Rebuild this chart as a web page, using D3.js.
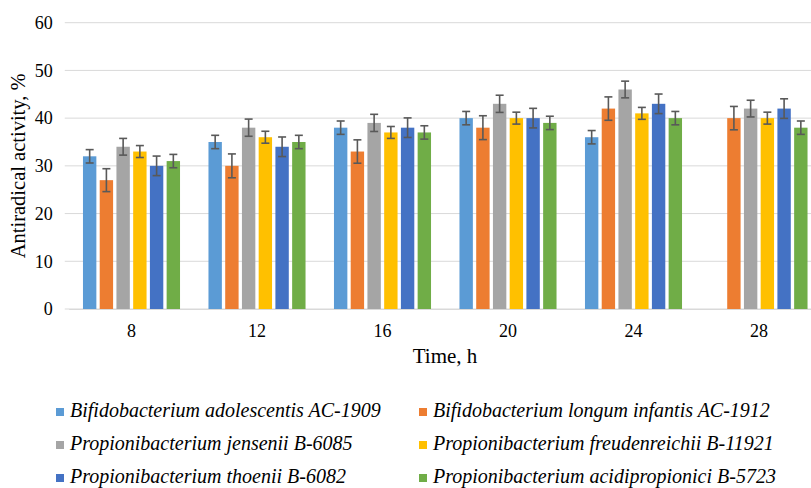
<!DOCTYPE html>
<html lang="en">
<head>
<meta charset="UTF-8">
<title>Antiradical activity</title>
<style>
  body { margin: 0; background: #fff; }
  svg { display: block; font-family: "Liberation Serif", "Times New Roman", serif; }
</style>
</head>
<body>
<div id="chart"></div>
<script src="https://d3js.org/d3.v7.min.js"></script>
<script>
// data
const hours = ["8", "12", "16", "20", "24", "28"];
const seriesNames = [
  "Bifidobacterium adolescentis AC-1909",
  "Bifidobacterium longum infantis AC-1912",
  "Propionibacterium jensenii B-6085",
  "Propionibacterium freudenreichii B-11921",
  "Propionibacterium thoenii B-6082",
  "Propionibacterium acidipropionici B-5723"
];
const adolescentis = [32, 35, 38, 40, 36, null];
const longumInfantis = [27, 30, 33, 38, 42, 40];
const jensenii = [34, 38, 39, 43, 46, 42];
const freudenreichii = [33, 36, 37, 40, 41, 40];
const thoenii = [30, 34, 38, 40, 43, 42];
const acidipropionici = [31, 35, 37, 39, 40, 38];
const errAdolescentis = [1.4, 1.4, 1.4, 1.4, 1.4, 1.4];
const errLongum = [2.4, 2.5, 2.45, 2.5, 2.45, 2.45];
const errJensenii = [1.75, 1.8, 1.8, 1.8, 1.75, 1.75];
const errFreud = [1.25, 1.25, 1.25, 1.25, 1.25, 1.25];
const errThoenii = [2.05, 2.05, 2.05, 2.05, 2.05, 2.05];
const errAcidi = [1.4, 1.4, 1.4, 1.4, 1.4, 1.4];
const yTicks = [0, 10, 20, 30, 40, 50, 60];
const colors = ["#5B9BD5", "#ED7D31", "#A5A5A5", "#FFC000", "#4472C4", "#70AD47"];

const values = [adolescentis, longumInfantis, jensenii, freudenreichii, thoenii, acidipropionici];
const errors = [errAdolescentis, errLongum, errJensenii, errFreud, errThoenii, errAcidi];

const rows = [];
hours.forEach((h, i) => {
  seriesNames.forEach((s, j) => {
    if (values[j][i] != null) rows.push({hour: h, series: s, idx: j, value: values[j][i], err: errors[j][i]});
  });
});

const W = 811, H = 488;
const plot = {left: 68.75, right: 821.75, top: 22.7, bottom: 309};

const svg = d3.select("#chart").append("svg").attr("width", W).attr("height", H);

const x0 = d3.scaleBand().domain(hours).range([plot.left, plot.right]).paddingInner(0.2).paddingOuter(0.1);
const x1 = d3.scaleBand().domain(seriesNames).range([0, x0.bandwidth()]).paddingInner(0.2).paddingOuter(0.1);
const y = d3.scaleLinear().domain([0, 60]).range([plot.bottom, plot.top]);

// gridlines
svg.append("g")
  .selectAll("line")
  .data(yTicks)
  .enter().append("line")
  .attr("x1", plot.left - 4).attr("x2", plot.right)
  .attr("y1", d => y(d)).attr("y2", d => y(d))
  .attr("stroke", "#d9d9d9").attr("stroke-width", 1);

// y tick labels
const yAxis = svg.append("g")
  .attr("transform", "translate(" + plot.left + ",0)")
  .call(d3.axisLeft(y).tickValues(yTicks).tickSize(0).tickPadding(16));
yAxis.select(".domain").remove();
yAxis.selectAll("text").attr("font-size", 18).attr("font-family", "Liberation Serif").attr("fill", "#000");

// bars
svg.append("g")
  .selectAll("rect")
  .data(rows)
  .enter().append("rect")
  .attr("x", d => x0(d.hour) + x1(d.series))
  .attr("y", d => y(d.value))
  .attr("width", x1.bandwidth())
  .attr("height", d => y(0) - y(d.value))
  .attr("fill", d => colors[d.idx]);

// error bars
const eb = svg.append("g").attr("stroke", "#595959").attr("stroke-width", 1.6);
rows.forEach(d => {
  const cx = x0(d.hour) + x1(d.series) + x1.bandwidth() / 2;
  eb.append("line").attr("x1", cx).attr("x2", cx).attr("y1", y(d.value + d.err)).attr("y2", y(d.value - d.err));
  eb.append("line").attr("x1", cx - 4).attr("x2", cx + 4).attr("y1", y(d.value + d.err)).attr("y2", y(d.value + d.err));
  eb.append("line").attr("x1", cx - 4).attr("x2", cx + 4).attr("y1", y(d.value - d.err)).attr("y2", y(d.value - d.err));
});

// x axis
const xAxis = svg.append("g")
  .attr("transform", "translate(0," + plot.bottom + ")")
  .call(d3.axisBottom(x0).tickSize(0).tickPadding(15));
xAxis.select(".domain").attr("stroke", "#d9d9d9");
xAxis.selectAll("text").attr("font-size", 18).attr("font-family", "Liberation Serif").attr("fill", "#000");

// axis titles
svg.append("text")
  .attr("x", 445).attr("y", 358)
  .attr("text-anchor", "middle").attr("dominant-baseline", "middle")
  .attr("font-size", 21)
  .text("Time, h");

svg.append("text")
  .attr("transform", "translate(20," + (plot.top + plot.bottom) / 2 + ") rotate(-90)")
  .attr("text-anchor", "middle").attr("dominant-baseline", "middle")
  .attr("font-size", 20.5)
  .text("Antiradical activity, %");

// legend
const legendX = [56, 419];
const legendY = [412, 445, 478];
const legend = svg.append("g")
  .selectAll("g")
  .data(seriesNames)
  .enter().append("g")
  .attr("transform", (d, i) => "translate(" + legendX[i % 2] + "," + legendY[Math.floor(i / 2)] + ")");
legend.append("rect")
  .attr("x", 0).attr("y", -4).attr("width", 8).attr("height", 8)
  .attr("fill", (d, i) => colors[i]);
legend.append("text")
  .attr("x", 14).attr("y", 0)
  .attr("dominant-baseline", "middle")
  .attr("font-size", 20).attr("font-style", "italic")
  .text(d => d);
</script>
</body>
</html>
